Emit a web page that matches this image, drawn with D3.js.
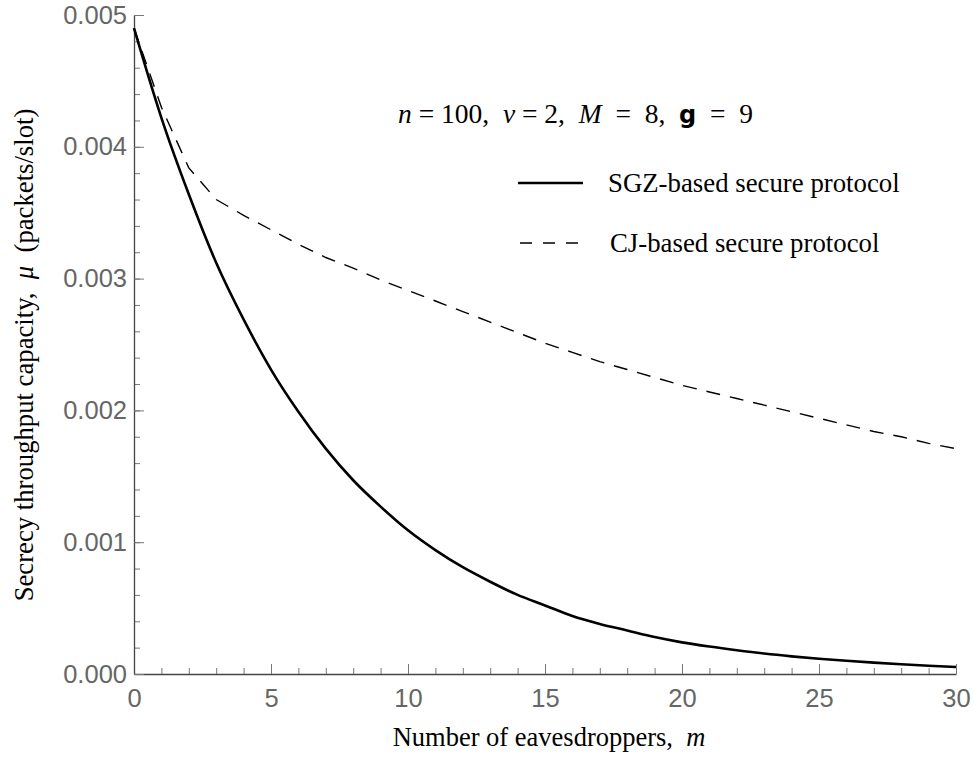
<!DOCTYPE html>
<html>
<head>
<meta charset="utf-8">
<script src="https://cdn.jsdelivr.net/npm/d3@7"></script>
<style>
    body { margin: 0; background: #fff; }
    .tick-label text { font-family: "Liberation Sans", Arial, sans-serif; font-size: 25.5px; fill: #666; }
    .serif { font-family: "Liberation Serif", "Times New Roman", serif; fill: #000; white-space: pre; }
</style>
</head>
<body>
<div id="chart"></div>
<script>
// number of eavesdroppers m
const mValues = d3.range(0, 31);
// SGZ-based secure protocol (solid)
const sgzValues = [
    0.00490, 0.00422, 0.00364, 0.00312, 0.00269, 0.00231, 0.00199, 0.00171,
    0.00147, 0.00127, 0.00109, 0.00094, 0.00081, 0.00070, 0.00060, 0.00052,
    0.00044, 0.00038, 0.00033, 0.00028, 0.00024, 0.000208, 0.000180, 0.000155,
    0.000134, 0.000116, 0.000100, 0.000086, 0.000074, 0.000063, 0.000053
];
// CJ-based secure protocol (dashed)
const cjValues = [
    0.00490, 0.00430, 0.00384, 0.00360, 0.00348, 0.00337, 0.00326, 0.00316,
    0.00308, 0.00299, 0.00291, 0.00283, 0.00275, 0.00267, 0.00259, 0.00251,
    0.00244, 0.00237, 0.00231, 0.00225, 0.00219, 0.00214, 0.00209, 0.00204,
    0.00199, 0.00194, 0.00189, 0.00184, 0.00180, 0.00175, 0.00171
];
const xTicks = [0, 5, 10, 15, 20, 25, 30];
const yTicks = [0, 0.001, 0.002, 0.003, 0.004, 0.005];
const legendLabels = ["SGZ-based secure protocol", "CJ-based secure protocol"];

const width = 974, height = 760;
const margin = { top: 15, right: 18, bottom: 86, left: 134 };

const svg = d3.select("#chart").append("svg")
    .attr("width", width)
    .attr("height", height);

const x = d3.scaleLinear().domain([0, 30]).range([margin.left, width - margin.right]);
const y = d3.scaleLinear().domain([0, 0.005]).range([height - margin.bottom, margin.top]);

// minor ticks
svg.append("g")
    .attr("transform", `translate(0,${y(0)})`)
    .call(d3.axisBottom(x).tickValues(d3.range(0, 31, 1)).tickSize(-6).tickSizeOuter(0).tickFormat(""))
    .call(g => g.select(".domain").remove())
    .call(g => g.selectAll("line").attr("stroke", "#777"));
svg.append("g")
    .attr("transform", `translate(${x(0)},0)`)
    .call(d3.axisLeft(y).tickValues(d3.range(0, 26).map(i => i * 0.0002)).tickSize(-6).tickSizeOuter(0).tickFormat(""))
    .call(g => g.select(".domain").remove())
    .call(g => g.selectAll("line").attr("stroke", "#777"));

// major axes
svg.append("g")
    .attr("class", "tick-label")
    .attr("transform", `translate(0,${y(0)})`)
    .call(d3.axisBottom(x).tickValues(xTicks).tickSize(-10).tickSizeOuter(0).tickPadding(15).tickFormat(d3.format("d")))
    .call(g => g.select(".domain").attr("stroke", "#444").attr("stroke-width", 1.3))
    .call(g => g.selectAll("line").attr("stroke", "#777"));

svg.append("g")
    .attr("class", "tick-label")
    .attr("transform", `translate(${x(0)},0)`)
    .call(d3.axisLeft(y).tickValues(yTicks).tickSize(-10).tickSizeOuter(0).tickPadding(7).tickFormat(d3.format(".3f")))
    .call(g => g.select(".domain").attr("stroke", "#444").attr("stroke-width", 1.3))
    .call(g => g.selectAll("line").attr("stroke", "#777"));

// curves
const line = d3.line()
    .x((d, i) => x(mValues[i]))
    .y(d => y(d));

svg.append("path")
    .datum(sgzValues)
    .attr("fill", "none")
    .attr("stroke", "#000")
    .attr("stroke-width", 2.6)
    .attr("d", line.curve(d3.curveMonotoneX));

svg.append("path")
    .datum(cjValues)
    .attr("fill", "none")
    .attr("stroke", "#000")
    .attr("stroke-width", 1.4)
    .attr("stroke-dasharray", "14,10")
    .attr("d", line.curve(d3.curveLinear));

// annotation
const note = svg.append("text")
    .attr("class", "serif")
    .attr("x", 398)
    .attr("y", 123)
    .style("font-size", "27.5px");
note.append("tspan").style("font-style", "italic").text("n");
note.append("tspan").text(" = 100,  ");
note.append("tspan").style("font-style", "italic").text("v");
note.append("tspan").text(" = 2,  ");
note.append("tspan").style("font-style", "italic").text("M");
note.append("tspan").text("  =  8,  ");
note.append("tspan")
    .style("font-family", "'DejaVu Sans', sans-serif")
    .style("font-weight", "bold")
    .style("font-size", "24px")
    .text("g");
note.append("tspan").text("  =  9");

// legend
const legend = svg.append("g");
const legendRows = [
    { label: legendLabels[0], y: 183, dash: null, w: 2.6, x1: 518, tx: 608 },
    { label: legendLabels[1], y: 243, dash: "12,11", w: 1.4, x1: 520, tx: 610 }
];
legendRows.forEach(r => {
    legend.append("line")
        .attr("x1", r.x1).attr("x2", 583)
        .attr("y1", r.y).attr("y2", r.y)
        .attr("stroke", "#000")
        .attr("stroke-width", r.w)
        .attr("stroke-dasharray", r.dash);
    legend.append("text")
        .attr("class", "serif")
        .attr("x", r.tx)
        .attr("y", r.y)
        .attr("dy", "0.33em")
        .style("font-size", "26.8px")
        .text(r.label);
});

// axis titles
const xTitle = svg.append("text")
    .attr("class", "serif")
    .attr("x", 549)
    .attr("y", 746)
    .attr("text-anchor", "middle")
    .style("font-size", "26.5px");
xTitle.append("tspan").text("Number of eavesdroppers,  ");
xTitle.append("tspan").style("font-style", "italic").text("m");

const yTitle = svg.append("text")
    .attr("class", "serif")
    .attr("transform", "translate(33,355) rotate(-90)")
    .attr("text-anchor", "middle")
    .style("font-size", "26.7px");
yTitle.append("tspan").text("Secrecy throughput capacity,  ");
yTitle.append("tspan").style("font-style", "italic").text("μ");
yTitle.append("tspan").text("  (packets/slot)");
</script>
</body>
</html>
